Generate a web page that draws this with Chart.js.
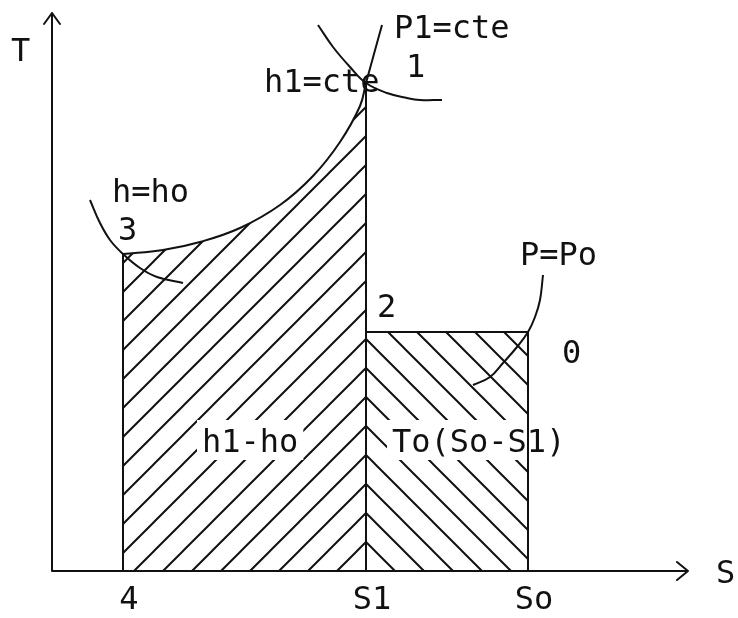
<!DOCTYPE html>
<html>
<head>
<meta charset="utf-8">
<title>Diagrama T-S</title>
<script src="https://cdn.jsdelivr.net/npm/chart.js@4.4.1/dist/chart.umd.min.js"></script>
<style>
  html, body { margin: 0; padding: 0; background: #fff; }
  canvas { display: block; }
</style>
</head>
<body>
<canvas id="ts" width="738" height="618"></canvas>
<script>
// entropy of the states (4/3, 1/2, 0) and their tick names
var sTicks = ['4', 'S1', 'So'];
var sValues = [1.42, 6.28, 9.52];

// temperatures of states 1, 2 and 3
var t1 = 9.76;
var t2 = 4.78;
var t3 = 6.34;

// P1 = cte isobar, from 3 through 1
var isobarP1 = [[1.42, 6.34], [2.22, 6.42], [2.96, 6.58], [3.76, 6.86], [4.56, 7.32],
                [5.22, 7.90], [5.76, 8.58], [6.16, 9.30], [6.28, 9.76], [6.6, 10.92]];
// h = ho through 3
var enthalpyH0 = [[0.76, 7.42], [0.96, 6.96], [1.16, 6.62], [1.42, 6.34], [1.76, 6.06], [2.1, 5.88], [2.62, 5.76]];
// h1 = cte through 1
var enthalpyH1 = [[5.32, 10.92], [5.62, 10.48], [5.96, 10.08], [6.28, 9.76], [6.7, 9.56], [7.1, 9.46], [7.36, 9.42], [7.8, 9.42]];
// P = Po through 0
var isobarP0 = [[8.42, 3.72], [8.76, 3.88], [9.02, 4.16], [9.3, 4.48], [9.52, 4.78], [9.66, 5.08], [9.76, 5.42], [9.82, 5.92]];

var notes = [
    { text: 'T', s: -0.82, t: 10.2 },
    { text: 'S', s: 13.28, t: -0.24 },
    { text: 'P1=cte', s: 6.84, t: 10.66 },
    { text: '1', s: 7.08, t: 9.88 },
    { text: 'h1=cte', s: 4.24, t: 9.58 },
    { text: 'h=ho', s: 1.2, t: 7.38 },
    { text: '3', s: 1.32, t: 6.62 },
    { text: 'P=Po', s: 9.36, t: 6.12 },
    { text: '2', s: 6.5, t: 5.08 },
    { text: '0', s: 10.2, t: 4.16 },
    { text: 'h1-ho', s: 3.0, t: 2.38, box: true },
    { text: 'To(So-S1)', s: 6.8, t: 2.38, box: true }
];

var INK = '#111';
var FONT = '32px "DejaVu Sans Mono"';

// diagonal hatch; phase is given in canvas pixels so both hatches meet on the S1 line
function hatch(forward, phase) {
    var c = document.createElement('canvas');
    c.width = 29; c.height = 29;
    var g = c.getContext('2d');
    g.strokeStyle = INK;
    g.lineWidth = 2;
    g.beginPath();
    for (var k = -1; k <= 1; k++) {
        var o = k * 29;
        if (forward) { g.moveTo(-3 + o, 32); g.lineTo(32 + o, -3); }
        else { g.moveTo(-3 + o, -3); g.lineTo(32 + o, 32); }
    }
    g.stroke();
    var p = g.createPattern(c, 'repeat');
    p.setTransform(new DOMMatrix().translate(phase, 0));
    return p;
}

function pts(arr) {
    return arr.map(function (p) { return { x: p[0], y: p[1] }; });
}

function curve(arr, extra) {
    var ds = {
        data: pts(arr),
        showLine: true,
        borderColor: INK,
        borderWidth: 2,
        pointRadius: 0,
        fill: false,
        clip: false,
        tension: 0.4,
        order: 1
    };
    return Object.assign(ds, extra || {});
}

var leftArea = isobarP1.filter(function (p) { return p[0] <= sValues[1]; });

// the two hatched areas go first (order 2 is drawn underneath the lines)
var datasets = [
    curve(leftArea, { fill: 'origin', backgroundColor: hatch(true, 9), borderColor: 'transparent', order: 2 }),
    curve([[sValues[1], t2], [sValues[2], t2]], { fill: 'origin', backgroundColor: hatch(false, 27), borderColor: 'transparent', order: 2 }),
    curve([[sValues[1], t2], [sValues[2], t2]]),
    curve([[sValues[0], 0], [sValues[0], t3]]),
    curve([[sValues[1], 0], [sValues[1], t1]]),
    curve([[sValues[2], 0], [sValues[2], t2]]),
    curve(isobarP1),
    curve(enthalpyH0),
    curve(enthalpyH1),
    curve(isobarP0)
];

function writeNote(chart, n) {
    var ctx = chart.ctx;
    var x = chart.scales.x.getPixelForValue(n.s);
    var y = chart.scales.y.getPixelForValue(n.t);
    ctx.font = FONT;
    if (n.box) {
        var m = ctx.measureText(n.text);
        ctx.fillStyle = '#fff';
        ctx.fillRect(x - 5, y - 32, m.width + 10, 40);
    }
    ctx.fillStyle = INK;
    ctx.fillText(n.text, x, y);
}

function writeNotes(chart, boxed) {
    var ctx = chart.ctx;
    ctx.save();
    ctx.textAlign = 'left';
    ctx.textBaseline = 'alphabetic';
    notes.forEach(function (n) { if (!!n.box === boxed) writeNote(chart, n); });
    ctx.restore();
}

var sketch = {
    id: 'sketch',
    beforeDatasetsDraw: function (chart) {
        var ctx = chart.ctx, a = chart.chartArea;
        ctx.save();
        ctx.strokeStyle = INK;
        ctx.lineWidth = 2;
        ctx.lineCap = 'round';
        ctx.lineJoin = 'round';
        ctx.beginPath();
        // S axis with arrow
        ctx.moveTo(a.left, a.bottom);
        ctx.lineTo(a.right, a.bottom);
        ctx.moveTo(a.right - 11, a.bottom - 9);
        ctx.lineTo(a.right, a.bottom);
        ctx.lineTo(a.right - 11, a.bottom + 9);
        // T axis with arrow
        ctx.moveTo(a.left, a.bottom);
        ctx.lineTo(a.left, a.top);
        ctx.moveTo(a.left - 8, a.top + 11);
        ctx.lineTo(a.left, a.top);
        ctx.lineTo(a.left + 8, a.top + 11);
        ctx.stroke();
        ctx.restore();
        writeNotes(chart, false);
    },
    // the area captions sit on the hatch but under the outlines
    afterDatasetDraw: function (chart, args) {
        if (args.index === 0) writeNotes(chart, true);
    }
};

new Chart(document.getElementById('ts'), {
    type: 'scatter',
    data: { datasets: datasets },
    plugins: [sketch],
    options: {
        responsive: false,
        animation: false,
        devicePixelRatio: 1,
        layout: { padding: { left: 52, right: 50, top: 13, bottom: 0 } },
        plugins: { legend: { display: false }, tooltip: { enabled: false } },
        events: [],
        scales: {
            x: {
                type: 'linear',
                min: 0,
                max: 12.72,
                grid: { display: false, drawTicks: false },
                border: { display: false },
                afterBuildTicks: function (axis) {
                    axis.ticks = sValues.map(function (v) { return { value: v }; });
                },
                afterFit: function (axis) { axis.height = 47; },
                ticks: {
                    autoSkip: false,
                    maxRotation: 0,
                    padding: 10,
                    labelOffset: 6,
                    color: INK,
                    font: { family: 'DejaVu Sans Mono', size: 32 },
                    callback: function (v, i) { return sTicks[i]; }
                }
            },
            y: {
                type: 'linear',
                display: false,
                min: 0,
                max: 11.16
            }
        }
    }
});
</script>
</body>
</html>
